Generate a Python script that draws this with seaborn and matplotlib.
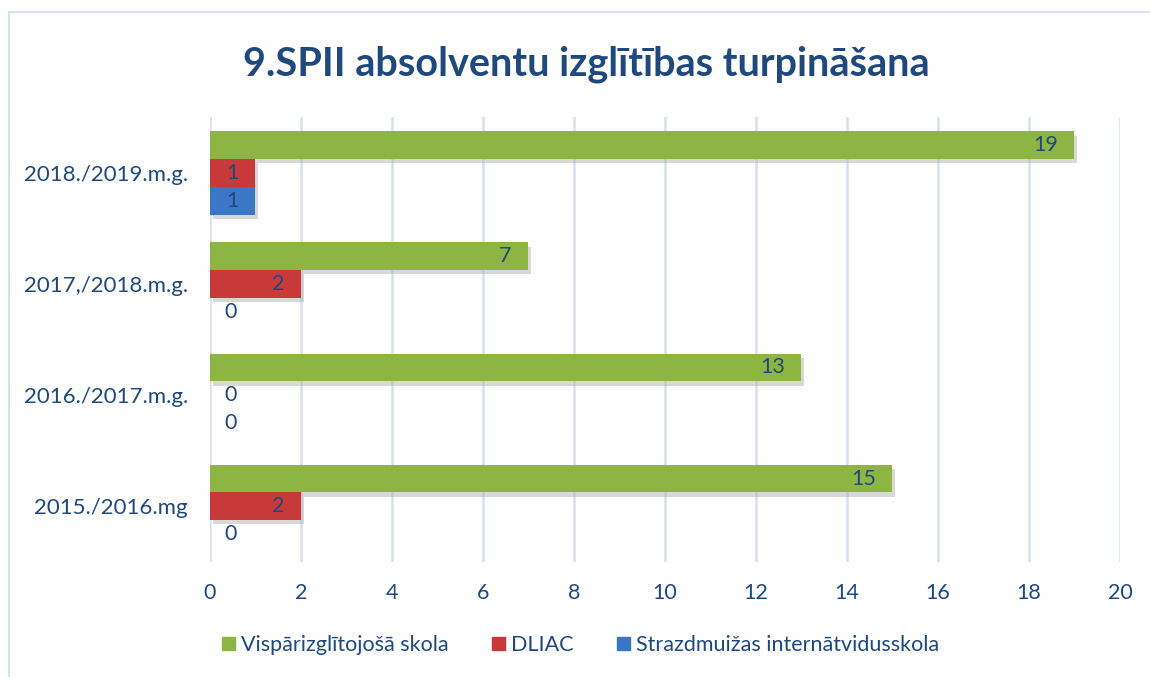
import matplotlib
matplotlib.use("Agg")
import pandas as pd
import seaborn as sns
import matplotlib.pyplot as plt
import matplotlib.patheffects as pe
from matplotlib.patches import Rectangle

# chart data
years = ["2018./2019.m.g.", "2017,/2018.m.g.", "2016./2017.m.g.", "2015./2016.mg"]
series = ["Vispārizglītojošā skola", "DLIAC", "Strazdmuižas internātvidusskola"]
vispar = [19, 7, 13, 15]
dliac = [1, 2, 0, 2]
strazd = [1, 0, 0, 0]

colors = ["#8db543", "#c83a3a", "#3a78c6"]
text_blue = "#1f497d"

rows = []
for name, vals in zip(series, [vispar, dliac, strazd]):
    for y, v in zip(years, vals):
        rows.append({"year": y, "school": name, "count": v})
df = pd.DataFrame(rows)

sns.set_style("white")
plt.rcParams["font.family"] = ["Lato", "DejaVu Sans"]

fig = plt.figure(figsize=(11.5, 6.77), dpi=100)
ax = fig.add_axes([0.1826, 0.170, 0.7913, 0.6565])

sns.barplot(data=df, y="year", x="count", hue="school", order=years,
            hue_order=series, palette=colors, orient="h", width=0.75,
            saturation=1, ax=ax, legend=False)

shadow = [pe.SimplePatchShadow(offset=(2, -3), shadow_rgbFace="#aaaaaa", alpha=0.45), pe.Normal()]
for c in ax.containers:
    for bar in c:
        bar.set_path_effects(shadow)
        bar.set_edgecolor("none")

# value labels
for c, vals in zip(ax.containers, [vispar, dliac, strazd]):
    for bar, v in zip(c, vals):
        yc = bar.get_y() + bar.get_height() / 2
        if v > 0:
            ax.annotate(str(v), (v, yc), xytext=(-12, 0), textcoords="offset points",
                        ha="right", va="center", fontsize=15.5, color=text_blue)
        else:
            ax.annotate(str(v), (0, yc), xytext=(10, 0), textcoords="offset points",
                        ha="left", va="center", fontsize=15.5, color=text_blue)

ax.set_xlim(0, 20)
ax.set_xticks(range(0, 21, 2))
ax.set_xlabel("")
ax.set_ylabel("")
ax.grid(axis="x", color="#d5e1f0", linewidth=1.8)
ax.set_axisbelow(True)
for s in ax.spines.values():
    s.set_visible(False)
ax.tick_params(axis="x", colors=text_blue, labelsize=15.5, length=0, pad=15)
ax.tick_params(axis="y", colors=text_blue, labelsize=16, length=0, pad=16)

fig.text(0.51, 0.905, "9.SPII absolventu izglītības turpināšana", ha="center", va="center",
         fontsize=28.5, fontweight="bold", color=text_blue)

handles = [Rectangle((0, 0), 1, 1, color=col) for col in colors]
fig.legend(handles, series, loc="center", bbox_to_anchor=(0.505, 0.047), ncol=3,
           frameon=False, fontsize=15.5, labelcolor=text_blue, handlelength=0.6,
           handleheight=0.6, handletextpad=0.3, columnspacing=2.0)

fig.patches.append(Rectangle((9 / 1150, -0.01), 1.1, 1 - 12 / 677 + 0.01,
                             transform=fig.transFigure, fill=False,
                             edgecolor="#d5e1f0", linewidth=1.5))

fig.savefig("out.png", dpi=100)
